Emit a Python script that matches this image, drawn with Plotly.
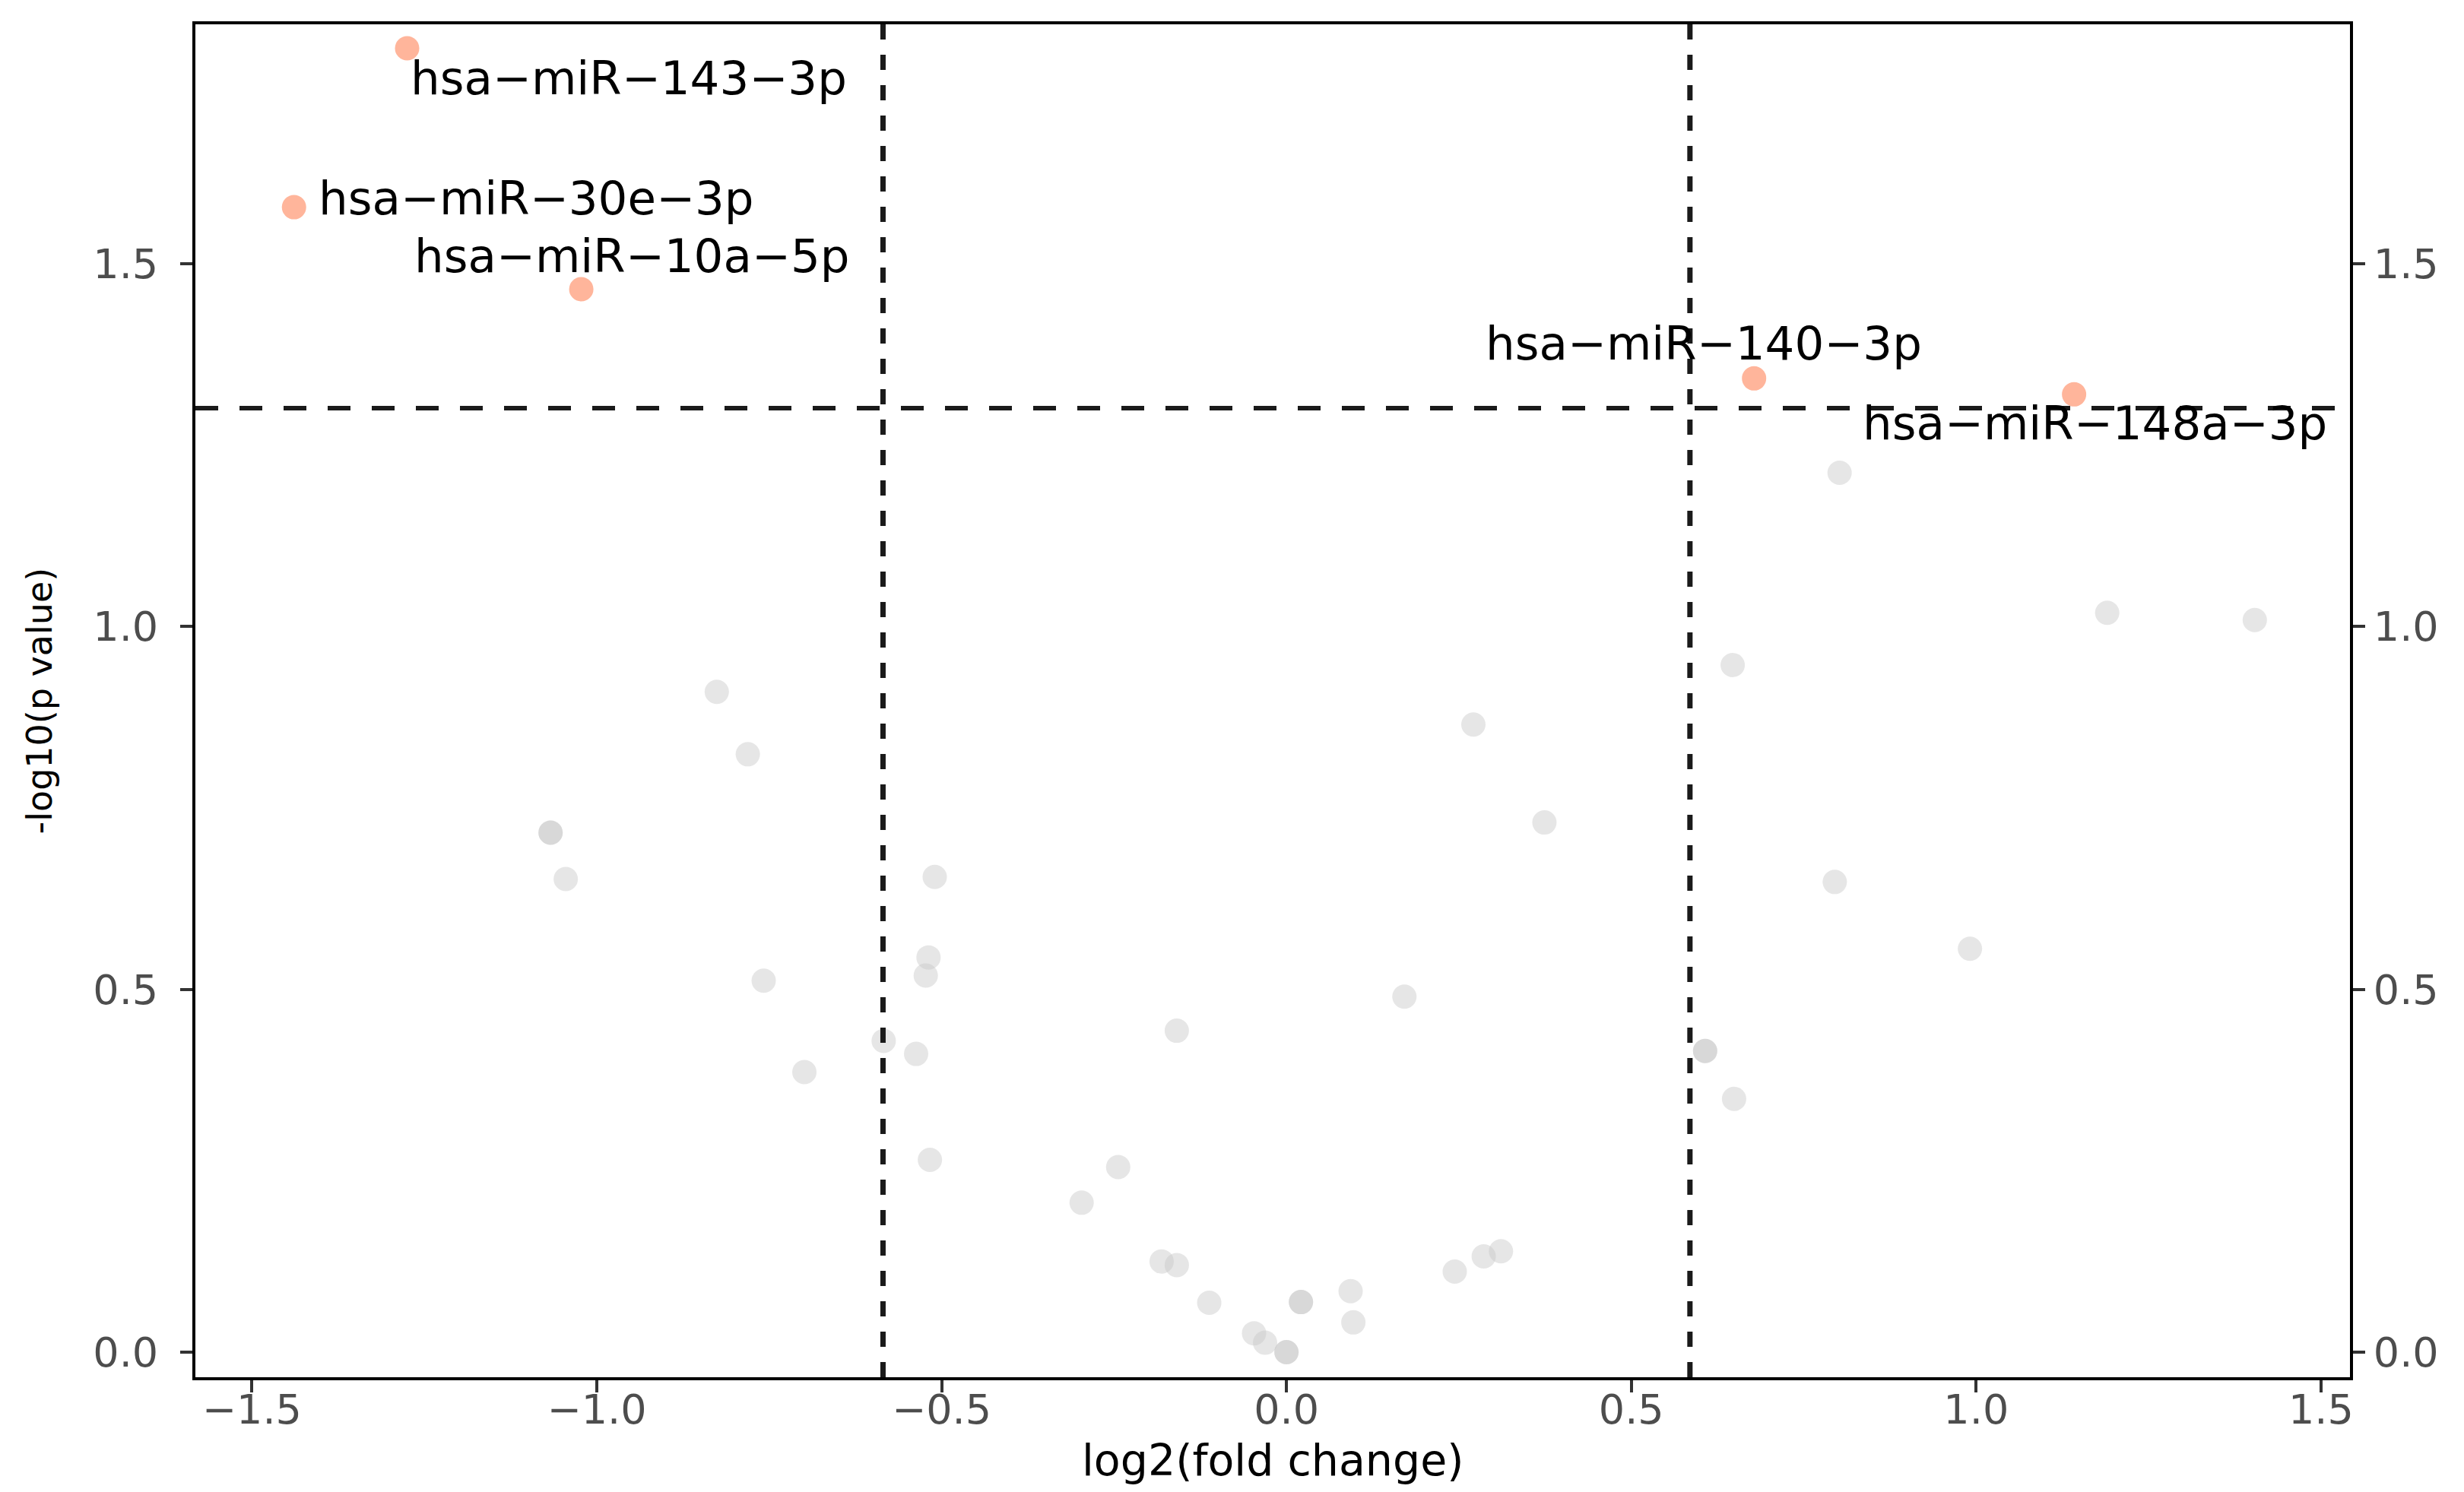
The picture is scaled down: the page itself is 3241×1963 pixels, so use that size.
import plotly.graph_objects as go

# ---- data ----
grey_x = [-0.826, -0.781, -1.067, -1.067, -1.045, -0.510, -0.519, -0.523, -0.758,
          -0.584, -0.537, -0.699, -0.517, -0.159, -0.244, -0.297, -0.181, -0.159,
          -0.112, -0.047, -0.031, 0.000, 0.000, 0.021, 0.021, 0.093, 0.097, 0.171,
          0.271, 0.374, 0.244, 0.286, 0.311, 0.607, 0.607, 0.649, 0.647, 0.802,
          0.795, 0.991, 1.190, 1.404]
grey_y = [0.910, 0.824, 0.716, 0.716, 0.652, 0.655, 0.544, 0.519, 0.512,
          0.429, 0.411, 0.386, 0.265, 0.443, 0.255, 0.206, 0.125, 0.120,
          0.068, 0.026, 0.013, 0.000, 0.000, 0.069, 0.069, 0.084, 0.041, 0.490,
          0.865, 0.730, 0.111, 0.132, 0.139, 0.415, 0.415, 0.349, 0.947, 1.212,
          0.648, 0.556, 1.019, 1.009]

sig_names = ["hsa\u2212miR\u2212143\u22123p", "hsa\u2212miR\u221230e\u22123p",
             "hsa\u2212miR\u221210a\u22125p", "hsa\u2212miR\u2212140\u22123p",
             "hsa\u2212miR\u2212148a\u22123p"]
sig_x = [-1.275, -1.439, -1.0225, 0.678, 1.142]
sig_y = [1.797, 1.578, 1.465, 1.342, 1.320]

fc_cut = 0.585      # log2(1.5)
p_cut = 1.301       # -log10(0.05)

x_ticks = [-1.5, -1.0, -0.5, 0.0, 0.5, 1.0, 1.5]
y_ticks = [0.0, 0.5, 1.0, 1.5]
x_range = [-1.582, 1.542]
y_range = [-0.0346, 1.830]

# label placement (pixel offsets from the point)
lab_anchor = ["left", "left", "right", "right", "right"]
lab_dx = [2, 30, 354, 223, 335]
lab_dy = [-39, 12, 44, 46, -38]

FONT = "DejaVu Sans"
TICK_COLOR = "#4D4D4D"

fig = go.Figure()
fig.add_trace(go.Scatter(
    x=grey_x, y=grey_y, mode="markers",
    marker=dict(size=32, color="rgba(200,200,200,0.45)", line=dict(width=0)),
    hoverinfo="skip", showlegend=False))
fig.add_trace(go.Scatter(
    x=sig_x, y=sig_y, mode="markers",
    marker=dict(size=32, color="#FFB59B", line=dict(width=0)),
    hoverinfo="skip", showlegend=False))
# invisible trace to activate the secondary (right) y axis
fig.add_trace(go.Scatter(
    x=sig_x, y=sig_y, mode="markers", yaxis="y2",
    marker=dict(size=1, opacity=0), hoverinfo="skip", showlegend=False))

# threshold lines
for xv in (-fc_cut, fc_cut):
    fig.add_shape(type="line", xref="x", yref="paper", x0=xv, x1=xv, y0=0, y1=1,
                  line=dict(color="#1a1a1a", width=7, dash="20px,20px"))
fig.add_shape(type="line", xref="paper", yref="y", x0=0, x1=1, y0=p_cut, y1=p_cut,
              line=dict(color="#1a1a1a", width=6, dash="30px,28px"))

for name, xv, yv, anc, dx, dy in zip(sig_names, sig_x, sig_y, lab_anchor, lab_dx, lab_dy):
    fig.add_annotation(x=xv, y=yv, xref="x", yref="y", text=name, showarrow=False,
                       xanchor=anc, yanchor="middle", xshift=dx, yshift=dy,
                       font=dict(family=FONT, size=61, color="black"))

# axis titles
fig.add_annotation(x=0.5, y=-0.061, xref="paper", yref="paper",
                   text="log2(fold change)", showarrow=False,
                   xanchor="center", yanchor="middle",
                   font=dict(family=FONT, size=57, color="black"))
fig.add_annotation(x=-0.0722, y=0.5, xref="paper", yref="paper",
                   text="-log10(p value)", showarrow=False, textangle=-90,
                   xanchor="center", yanchor="middle",
                   font=dict(family=FONT, size=46, color="black"))

axis_common = dict(showgrid=False, zeroline=False, showline=True, linecolor="black",
                   linewidth=4, ticks="outside", ticklen=16, tickwidth=4,
                   tickcolor="#333333",
                   tickfont=dict(family=FONT, size=54, color=TICK_COLOR))

fig.update_layout(
    width=3241, height=1963,
    margin=dict(l=249, r=158, t=24, b=159),
    paper_bgcolor="white", plot_bgcolor="white",
    showlegend=False,
    xaxis=dict(range=x_range, tickvals=x_ticks,
               ticktext=[f"{v:.1f}".replace("-", "\u2212") for v in x_ticks],
               mirror=True, ticklabelstandoff=-24, **axis_common),
    yaxis=dict(range=y_range, tickvals=y_ticks,
               ticktext=[f"{v:.1f}" for v in y_ticks],
               ticklabelstandoff=18, **axis_common),
    yaxis2=dict(range=y_range, tickvals=y_ticks,
                ticktext=[f"{v:.1f}" for v in y_ticks],
                overlaying="y", side="right", anchor="x", **axis_common),
)

fig.write_html("out.html")
